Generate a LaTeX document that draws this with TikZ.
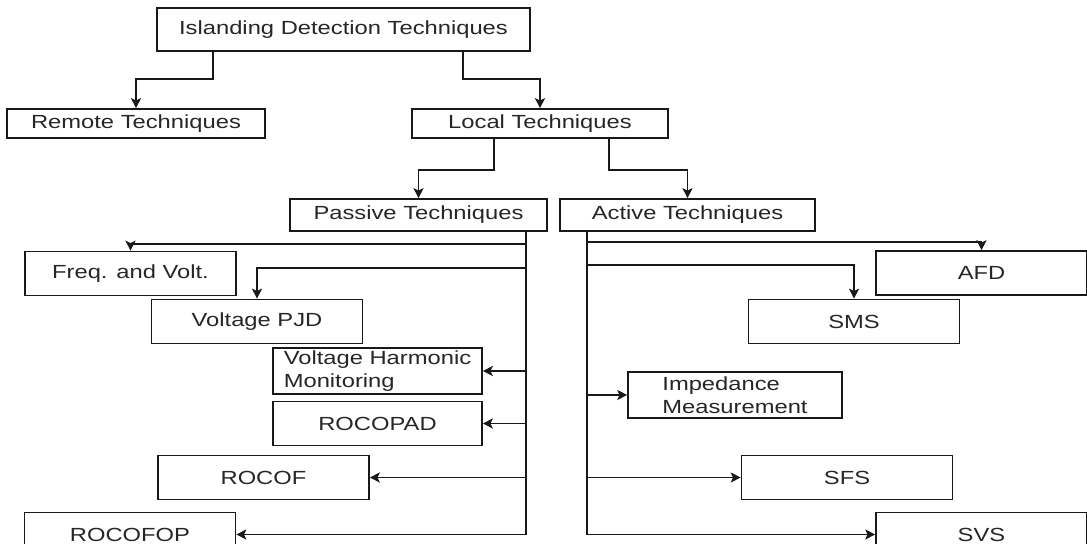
\documentclass[tikz,border=0pt]{standalone}
\usepackage{fontspec}
\setmainfont{Liberation Sans}[FakeStretch=1.25]
\usetikzlibrary{arrows.meta,calc}

\begin{document}
\begin{tikzpicture}[x=0.5pt,y=-0.5pt,
    blocco/.style={rectangle,draw=black!90,line width=0.8pt,inner sep=0pt,
        minimum width=105.5pt,minimum height=22pt,text=black!85,
        font=\fontsize{9.5pt}{11.5pt}\selectfont},
    freccia/.style={-{Stealth[length=5pt,width=5pt,inset=1.2pt]},line width=0.75pt,draw=black!90}]
            \useasboundingbox (0,0) rectangle (1087,544);

            \node[blocco,minimum width=186.5pt,minimum height=21.5pt] (isl) at (343.5,29.5) {Islanding Detection Techniques};
            \node[blocco,minimum width=129pt,minimum height=14.5pt] (remote) at (136,123.5) {Remote Techniques};
            \node[blocco,minimum width=128pt,minimum height=14.5pt] (local) at (540,123.5) {Local Techniques};
            \node[blocco,minimum width=128.5pt,minimum height=16pt] (passive) at (418.5,215) {Passive Techniques};
            \node[blocco,minimum width=127.5pt,minimum height=16pt] (active) at (687.5,215) {Active Techniques};

            %ramo passivo
            \node[blocco] (freq) at (130.5,273.5) {Freq. and Volt.};
            \node[blocco] (pjd) at (257,321.5) {Voltage PJD};
            \node[blocco,minimum width=104.5pt,minimum height=23pt,align=left] (vhm) at (377.5,371) {Voltage Harmonic\\Monitoring};
            \node[blocco,minimum width=104.5pt] (rocopad) at (377.5,423.5) {ROCOPAD};
            \node[blocco] (rocof) at (263.5,477.5) {ROCOF};
            \node[blocco] (rocofop) at (130,534.5) {ROCOFOP};

            %ramo attivo
            \node[blocco] (afd) at (981.5,273) {AFD};
            \node[blocco] (sms) at (854,321.5) {SMS};
            \node[blocco,minimum width=107pt,minimum height=23pt,align=left] (imp) at (735,395) {Impedance\\Measurement};
            \node[blocco] (sfs) at (847,477.5) {SFS};
            \node[blocco] (svs) at (981.5,534.5) {SVS};

            %Ora le frecce
            \draw[freccia] ($(isl.south west)+(57,0)$) -- ++(0,27) -| (remote.north);
            \draw[freccia] ($(isl.south east)+(-68,0)$) -- ++(0,27) -| (local.north);
            \draw[freccia] ($(local.south west)+(83,0)$) -- ++(0,31) -| (passive.north);
            \draw[freccia] ($(local.south east)+(-60,0)$) -- ++(0,31) -| (active.north);

            \coordinate (ptr) at ($(passive.south east)+(-22,0)$);
            \draw[freccia] (ptr) |- (rocofop.east);
            \draw[freccia] ($(ptr)+(0,12)$) -| (freq.north);
            \draw[freccia] ($(ptr)+(0,36)$) -| (pjd.north);
            \draw[freccia] (ptr |- vhm.east) -- (vhm.east);
            \draw[freccia] (ptr |- rocopad.east) -- (rocopad.east);
            \draw[freccia] (ptr |- rocof.east) -- (rocof.east);

            \coordinate (atr) at ($(active.south west)+(28,0)$);
            \draw[freccia] (atr) |- (svs.west);
            \draw[freccia] ($(atr)+(0,10)$) -| (afd.north);
            \draw[freccia] ($(atr)+(0,33)$) -| (sms.north);
            \draw[freccia] (atr |- imp.west) -- (imp.west);
            \draw[freccia] (atr |- sfs.west) -- (sfs.west);

        \end{tikzpicture}
\end{document}
